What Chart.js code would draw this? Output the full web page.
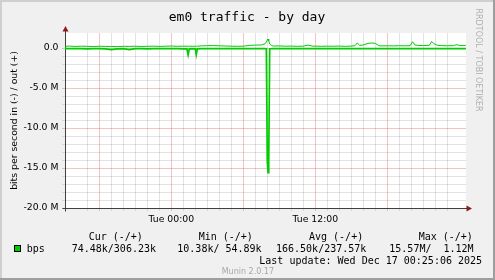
<!DOCTYPE html>
<html>
<head>
<meta charset="utf-8">
<style>
  html, body { margin: 0; padding: 0; background: #f0f0f0; }
  canvas { display: block; }
</style>
<script src="https://cdn.jsdelivr.net/npm/chart.js@4/dist/chart.umd.min.js"></script>
</head>
<body>
<canvas id="c" width="495" height="280"></canvas>
<script>
// ---- data (hours relative to Tue 00:00, values in Mbit/s) ----
const hours = [-8.875,-8.5,-8,-7.5,-7,-6.5,-6,-5.5,-5,-4.5,-4,-3.5,-3,-2.5,-2,-1.5,-1,-0.5,0,0.5,1,1.3,1.4,1.5,1.75,2.0,2.08,2.17,2.5,3,3.5,4,4.5,5,5.5,6,6.5,7,7.5,7.8,7.92,8.0,8.06,8.12,8.2,8.35,8.5,9,9.5,10,10.5,11,11.4,11.8,12,12.5,13,13.5,14,14.5,15,15.3,15.5,15.7,16,16.4,16.7,17.0,17.3,17.5,18,18.5,19,19.5,19.9,20.1,20.3,20.5,21,21.5,21.7,21.9,22.2,22.5,23,23.5,23.8,24,24.3,24.55];
const outMbps = [0.20,0.24,0.19,0.23,0.21,0.18,0.22,0.20,0.19,0.17,0.21,0.20,0.22,0.19,0.21,0.23,0.20,0.22,0.25,0.21,0.23,0.22,0.21,0.23,0.22,0.21,0.23,0.22,0.27,0.29,0.30,0.27,0.25,0.23,0.21,0.23,0.32,0.36,0.38,0.52,0.75,1.00,1.12,0.90,0.50,0.32,0.24,0.26,0.22,0.24,0.21,0.23,0.36,0.22,0.24,0.21,0.23,0.22,0.24,0.21,0.24,0.28,0.62,0.33,0.38,0.58,0.62,0.58,0.29,0.26,0.28,0.26,0.29,0.27,0.29,0.78,0.38,0.33,0.31,0.33,0.82,0.52,0.33,0.30,0.28,0.29,0.42,0.31,0.30,0.33];
const inMbps = [-0.08,-0.06,-0.09,-0.07,-0.10,-0.08,-0.07,-0.12,-0.20,-0.10,-0.08,-0.20,-0.09,-0.07,-0.10,-0.08,-0.07,-0.09,-0.08,-0.07,-0.10,-0.10,-0.85,-0.10,-0.08,-0.10,-0.82,-0.10,-0.08,-0.07,-0.09,-0.08,-0.07,-0.09,-0.08,-0.07,-0.08,-0.07,-0.09,-0.08,-0.10,-14.2,-15.57,-14.0,-0.10,-0.09,-0.07,-0.08,-0.07,-0.09,-0.08,-0.07,-0.09,-0.08,-0.07,-0.08,-0.09,-0.07,-0.08,-0.07,-0.09,-0.08,-0.07,-0.08,-0.07,-0.09,-0.08,-0.07,-0.08,-0.07,-0.09,-0.08,-0.07,-0.08,-0.09,-0.08,-0.07,-0.08,-0.09,-0.08,-0.07,-0.08,-0.09,-0.08,-0.07,-0.08,-0.09,-0.08,-0.07,-0.07];

const yTickValues = [0, -5, -10, -15, -20];
const yTickLabels = ['0.0', '-5.0 M', '-10.0 M', '-15.0 M', '-20.0 M'];
const xTickHours = [0, 12, 24];
const xTickLabels = ['Tue 00:00', 'Tue 12:00', 'Wed 00:00'];

const legendHeaders = ['Cur (-/+)', 'Min (-/+)', 'Avg (-/+)', 'Max (-/+)'];
const legendValues = ['74.48k/306.23k', '10.38k/ 54.89k', '166.50k/237.57k', '15.57M/  1.12M'];
const seriesLabel = 'bps';
const titleText = 'em0 traffic - by day';
const yTitle = 'bits per second in (-) / out (+)';
const lastUpdate = 'Last update: Wed Dec 17 00:25:06 2025';
const footer = 'Munin 2.0.17';
const watermark = 'RRDTOOL / TOBI OETIKER';

// ---- styles ----
const GREEN = '#00cc00';
const MINOR = 'rgba(140,140,140,0.25)';
const MAJOR = 'rgba(210,60,60,0.3)';
const SANS = "'DejaVu Sans', sans-serif";
const MONO = "'DejaVu Sans Mono', monospace";

const bgPlugin = {
  id: 'bg',
  beforeDraw(chart) {
    const ctx = chart.ctx, W = chart.width, H = chart.height, a = chart.chartArea;
    ctx.save();
    ctx.fillStyle = '#f0f0f0';
    ctx.fillRect(0, 0, W, H);
    ctx.fillStyle = '#cfcfcf';
    ctx.fillRect(0, 0, W, 2);
    ctx.fillRect(0, 0, 2, H);
    ctx.fillStyle = '#9e9e9e';
    ctx.fillRect(0, H - 2, W, 2);
    ctx.fillRect(W - 2, 0, 2, H);
    ctx.fillStyle = '#ffffff';
    ctx.fillRect(a.left, a.top, a.right - a.left, a.bottom - a.top);
    ctx.restore();
  }
};

const axesPlugin = {
  id: 'axes',
  beforeDatasetsDraw(chart) {
    const ctx = chart.ctx, a = chart.chartArea;
    const x0 = Math.round(a.left) + 0.5, y0 = Math.round(a.bottom) + 0.5;
    ctx.save();
    ctx.strokeStyle = '#404040';
    ctx.lineWidth = 1;
    ctx.beginPath();
    ctx.moveTo(x0, y0 + 3); ctx.lineTo(x0, a.top - 2);
    ctx.moveTo(x0 - 3, y0); ctx.lineTo(a.right + 1, y0);
    ctx.stroke();
    ctx.fillStyle = '#8c1c1c';
    ctx.beginPath();
    ctx.moveTo(x0, a.top - 7); ctx.lineTo(x0 - 3, a.top - 1.5); ctx.lineTo(x0 + 3, a.top - 1.5); ctx.closePath();
    ctx.fill();
    ctx.beginPath();
    ctx.moveTo(a.right + 6, y0); ctx.lineTo(a.right + 0.5, y0 - 3); ctx.lineTo(a.right + 0.5, y0 + 3); ctx.closePath();
    ctx.fill();
    ctx.restore();
  }
};

const textPlugin = {
  id: 'texts',
  afterDraw(chart) {
    const ctx = chart.ctx;
    ctx.save();
    ctx.fillStyle = '#000';
    ctx.textBaseline = 'alphabetic';
    ctx.font = '13px ' + MONO;
    ctx.textAlign = 'center';
    ctx.fillText(titleText, 247, 21);

    ctx.textAlign = 'left';
    ctx.font = '10px ' + MONO;
    const hx = [88.7, 198.7, 309, 418.7];
    legendHeaders.forEach((t, i) => ctx.fillText(t, hx[i], 239.5));
    const vx = [71.7, 177.3, 276, 389.3];
    legendValues.forEach((t, i) => ctx.fillText(t, vx[i], 252.3));
    ctx.fillText(seriesLabel, 26.7, 252.3);
    ctx.fillText(lastUpdate, 259.3, 264.3);

    ctx.fillStyle = GREEN;
    ctx.fillRect(14, 245, 7, 7);
    ctx.strokeStyle = '#000';
    ctx.lineWidth = 1;
    ctx.strokeRect(14.5, 245.5, 6, 6);

    ctx.fillStyle = '#a8a8a8';
    ctx.font = '8px ' + SANS;
    ctx.fillText(footer, 221.7, 273.5);

    ctx.fillStyle = '#b0b0b0';
    ctx.translate(482, 8.5);
    ctx.rotate(Math.PI / 2);
    ctx.textBaseline = 'top';
    ctx.fillText(watermark, 0, 0);
    ctx.restore();
  }
};

const toPoints = (ys) => hours.map((h, i) => ({ x: h, y: ys[i] }));

new Chart(document.getElementById('c'), {
  type: 'line',
  data: {
    datasets: [
      { label: 'in', data: toPoints(inMbps), borderColor: GREEN, borderWidth: 1.7, pointRadius: 0, tension: 0, fill: false },
      { label: 'out', data: toPoints(outMbps), borderColor: GREEN, borderWidth: 1, pointRadius: 0, tension: 0, fill: false }
    ]
  },
  options: {
    responsive: false,
    devicePixelRatio: 1,
    animation: false,
    events: [],
    layout: { padding: { left: 0, right: 29, top: 33, bottom: 0 } },
    plugins: { legend: { display: false }, title: { display: false }, tooltip: { enabled: false } },
    scales: {
      x: {
        type: 'linear',
        min: -8.858,
        max: 24.558,
        afterBuildTicks: (s) => { s.ticks = s.ticks.filter(t => Number.isInteger(t.value)); },
        afterFit: (s) => { s.height = 72; },
        border: { display: false },
        grid: {
          color: (c) => (c.tick && c.tick.value % 6 === 0) ? MAJOR : MINOR,
          tickColor: (c) => (c.tick && c.tick.value % 6 === 0) ? MAJOR : MINOR,
          tickLength: 3,
          drawTicks: true
        },
        ticks: {
          stepSize: 1,
          autoSkip: false,
          maxRotation: 0,
          padding: 3,
          color: '#000',
          font: { family: SANS, size: 9.3 },
          callback: (v) => { const i = xTickHours.indexOf(v); return i >= 0 ? xTickLabels[i] : ''; }
        }
      },
      y: {
        min: -20,
        max: 1.875,
        afterBuildTicks: (s) => { s.ticks = s.ticks.filter(t => Number.isInteger(t.value)); },
        afterFit: (s) => { s.width = 65; },
        border: { display: false },
        grid: {
          color: (c) => (c.tick && c.tick.value % 5 === 0) ? MAJOR : MINOR,
          tickColor: (c) => (c.tick && c.tick.value % 5 === 0) ? MAJOR : MINOR,
          tickLength: 3,
          drawTicks: true
        },
        ticks: {
          stepSize: 1,
          autoSkip: false,
          padding: 3.5,
          color: '#000',
          font: { family: SANS, size: 9.3 },
          callback: (v) => { const i = yTickValues.indexOf(v); return i >= 0 ? yTickLabels[i] : ''; }
        },
        title: {
          display: true,
          text: yTitle,
          color: '#000',
          font: { family: SANS, size: 9.3, lineHeight: 1 },
          padding: { top: 10, bottom: 0 }
        }
      }
    }
  },
  plugins: [bgPlugin, axesPlugin, textPlugin]
});
</script>
</body>
</html>
